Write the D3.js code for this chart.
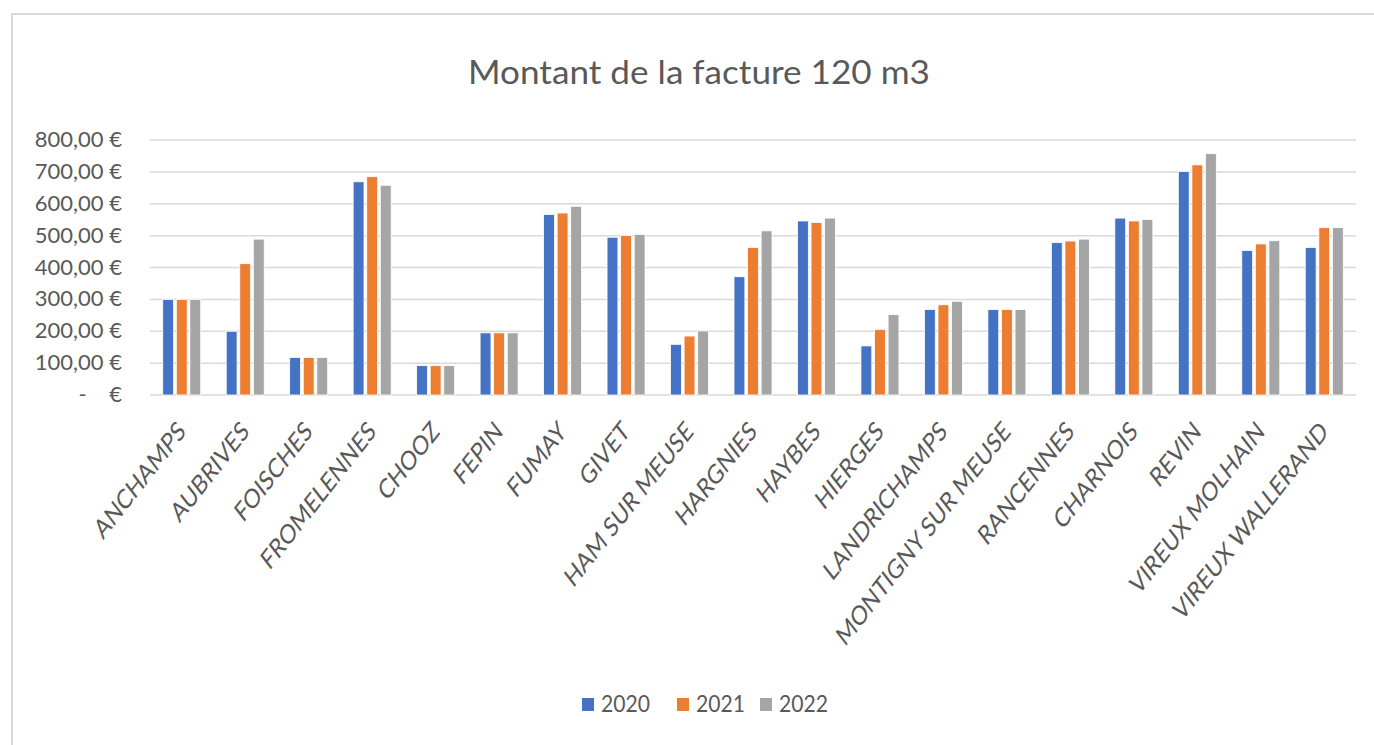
<!DOCTYPE html>
<html>
<head>
<meta charset="utf-8">
<script src="https://cdn.jsdelivr.net/npm/d3@7"></script>
<style>
  body { margin: 0; background: #fff; }
  text { font-family: Lato, "Open Sans", sans-serif; fill: #595959; }
</style>
</head>
<body>
<svg id="chart" width="1374" height="745"></svg>
<script>
// data
const communes = ["ANCHAMPS", "AUBRIVES", "FOISCHES", "FROMELENNES", "CHOOZ", "FEPIN", "FUMAY", "GIVET",
  "HAM SUR MEUSE", "HARGNIES", "HAYBES", "HIERGES", "LANDRICHAMPS", "MONTIGNY SUR MEUSE",
  "RANCENNES", "CHARNOIS", "REVIN", "VIREUX MOLHAIN", "VIREUX WALLERAND"];
const years = ["2020", "2021", "2022"];
const v2020 = [300, 200, 118, 669, 92, 195, 566, 495, 159, 371, 546, 154, 268, 268, 478, 555, 701, 453, 463];
const v2021 = [300, 412, 118, 685, 92, 195, 571, 500, 185, 463, 541, 206, 283, 268, 483, 546, 722, 474, 525];
const v2022 = [300, 489, 118, 658, 92, 195, 592, 504, 201, 515, 555, 252, 294, 268, 489, 551, 757, 484, 525];
const yTicks = [0, 100, 200, 300, 400, 500, 600, 700, 800];
const colors = ["#4472C4", "#ED7D31", "#A5A5A5"];

const series = [v2020, v2021, v2022];
const rows = communes.map((c, i) => ({ commune: c, values: years.map((yr, j) => ({ year: yr, value: series[j][i] })) }));

const svg = d3.select("#chart");
const mLeft = 150, mRight = 1356, mTop = 140, mBottom = 395;

// frame
svg.append("path")
  .attr("d", "M12,745 V14 H1374")
  .attr("fill", "none")
  .attr("stroke", "#d9d9d9")
  .attr("stroke-width", 2);

const x0 = d3.scaleBand().domain(communes).range([mLeft, mRight]).padding(0);
const half = 19;
const x1 = d3.scaleBand().domain(years)
  .range([x0.bandwidth() / 2 - half, x0.bandwidth() / 2 + half]).paddingInner(0.2);
const y = d3.scaleLinear().domain([0, 800]).range([mBottom, mTop]);

const fr = d3.formatLocale({ decimal: ",", thousands: " ", grouping: [3], currency: ["", " €"] });
const fmt = fr.format(",.2f");

// gridlines
svg.append("g").selectAll("line")
  .data(yTicks)
  .join("line")
  .attr("x1", mLeft).attr("x2", mRight)
  .attr("y1", d => y(d)).attr("y2", d => y(d))
  .attr("stroke", "#d9d9d9")
  .attr("stroke-width", 1.5);

// y axis labels
const yAxis = d3.axisLeft(y).tickValues(yTicks).tickSize(0).tickPadding(0)
  .tickFormat(d => d === 0 ? "-    €" : fmt(d) + " €");
const gy = svg.append("g").attr("transform", "translate(122,0)").call(yAxis);
gy.select(".domain").remove();
gy.selectAll("text")
  .attr("font-size", 22)
  .attr("font-family", "Lato, sans-serif")
  .attr("fill", "#595959")
  .style("white-space", "pre")
  .attr("dy", "0.3em")
  .attr("x", 0);

// bars
svg.append("g").selectAll("g")
  .data(rows)
  .join("g")
  .attr("transform", d => "translate(" + x0(d.commune) + ",0)")
  .selectAll("rect")
  .data(d => d.values)
  .join("rect")
  .attr("x", d => x1(d.year))
  .attr("y", d => y(d.value))
  .attr("width", x1.bandwidth())
  .attr("height", d => y(0) - y(d.value))
  .attr("fill", (d, i) => colors[i])
  .attr("stroke", "#fff")
  .attr("stroke-width", 0.8);

// x labels
svg.append("g").selectAll("text")
  .data(communes)
  .join("text")
  .attr("transform", d => "translate(" + (x0(d) + x0.bandwidth() / 2 + 5) + ",433) scale(0.78,1) rotate(-45)")
  .attr("text-anchor", "end")
  .attr("font-size", 27)
  .text(d => d);

// title
svg.append("text")
  .attr("x", 699).attr("y", 84)
  .attr("text-anchor", "middle")
  .attr("font-size", 32)
  .attr("textLength", 462)
  .attr("lengthAdjust", "spacingAndGlyphs")
  .text("Montant de la facture 120 m3");

// legend
const legendX = [582, 677, 760];
const lg = svg.append("g").selectAll("g")
  .data(years)
  .join("g")
  .attr("transform", (d, i) => "translate(" + legendX[i] + ",698)");
lg.append("rect").attr("width", 12).attr("height", 13).attr("fill", (d, i) => colors[i]);
lg.append("text")
  .attr("x", 19).attr("y", 14)
  .attr("font-size", 23)
  .attr("textLength", 49)
  .attr("lengthAdjust", "spacingAndGlyphs")
  .text(d => d);
</script>
</body>
</html>
